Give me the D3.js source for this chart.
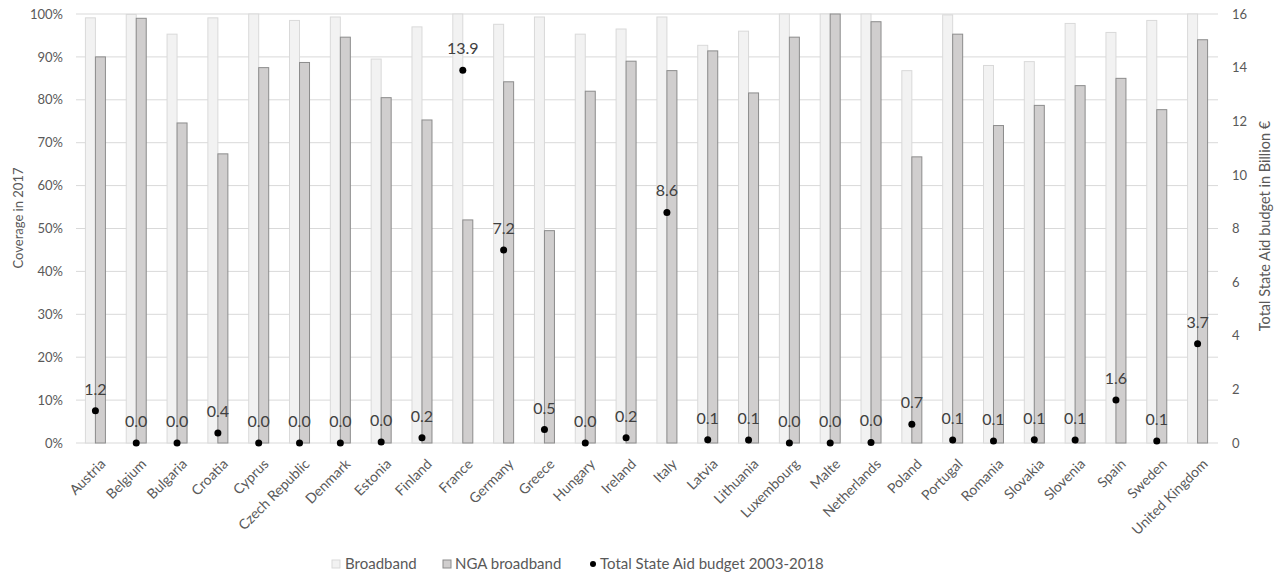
<!DOCTYPE html>
<html><head><meta charset="utf-8">
<script src="https://cdn.jsdelivr.net/npm/d3@7"></script>
<style>
body{margin:0;background:#fff;}
svg{display:block;font-family:Lato, "Open Sans", sans-serif;}
</style></head>
<body><svg id="c" width="1285" height="580"></svg>
<script>
const categories = ["Austria","Belgium","Bulgaria","Croatia","Cyprus","Czech Republic","Denmark","Estonia","Finland","France","Germany","Greece","Hungary","Ireland","Italy","Latvia","Lithuania","Luxembourg","Malte","Netherlands","Poland","Portugal","Romania","Slovakia","Slovenia","Spain","Sweden","United Kingdom"];
const broadband = [99.1,99.9,95.3,99.1,100,98.5,99.3,89.5,97.0,100,97.6,99.3,95.3,96.5,99.3,92.7,96.0,100,100,100,86.8,99.8,88.0,88.9,97.8,95.7,98.5,100];
const nga = [90.0,99.0,74.6,67.4,87.5,88.7,94.6,80.5,75.3,52.0,84.2,49.5,82.0,89.0,86.8,91.4,81.6,94.6,100,98.2,66.7,95.3,74.0,78.7,83.3,85.0,77.7,94.0];
const stateAid = [1.2,0.0,0.0,0.37,0.0,0.0,0.0,0.04,0.2,13.9,7.2,0.5,0.0,0.2,8.6,0.12,0.11,0.0,0.0,0.02,0.7,0.11,0.07,0.12,0.11,1.6,0.07,3.7];
const leftTicks = [0,10,20,30,40,50,60,70,80,90,100];
const rightTicks = [0,2,4,6,8,10,12,14,16];
const legendLabels = ["Broadband","NGA broadband","Total State Aid budget 2003-2018"];

const svg = d3.select("#c");
const L = 75, R = 1218, T = 14, B = 443;
const x = d3.scaleBand().domain(categories).range([L, R]).padding(0);
const yL = d3.scaleLinear().domain([0,100]).range([B, T]);
const yR = d3.scaleLinear().domain([0,16]).range([B, T]);
const cx = c => x(c) + x.bandwidth()/2;
const bw = 10;
const txt = "#595959";

// grid
svg.append("g").selectAll("line").data(leftTicks).join("line")
  .attr("x1", L+1).attr("x2", R).attr("y1", d=>yL(d)).attr("y2", d=>yL(d))
  .attr("stroke", "#d9d9d9").attr("stroke-width", 1);

// left axis
const la = svg.append("g").attr("transform", `translate(${L},0)`)
  .call(d3.axisLeft(yL).tickValues(leftTicks).tickFormat(d=>d+"%").tickSize(0).tickPadding(12));
la.select(".domain").remove();
la.selectAll("text").attr("fill", txt).style("font-size","13px").style("font-family","Lato, sans-serif");

// right axis
const ra = svg.append("g").attr("transform", `translate(${R},0)`)
  .call(d3.axisRight(yR).tickValues(rightTicks).tickSize(0).tickPadding(14));
ra.select(".domain").remove();
ra.selectAll("text").attr("fill", txt).style("font-size","13px").style("font-family","Lato, sans-serif");

// bars
svg.append("g").selectAll("rect").data(categories).join("rect")
  .attr("x", (c)=>cx(c)-bw).attr("width", bw)
  .attr("y", (c,i)=>yL(broadband[i])).attr("height", (c,i)=>B - yL(broadband[i]))
  .attr("fill", "#f2f2f2").attr("stroke", "#d9d9d9").attr("stroke-width", 1);
svg.append("g").selectAll("rect").data(categories).join("rect")
  .attr("x", (c)=>cx(c)).attr("width", bw)
  .attr("y", (c,i)=>yL(nga[i])).attr("height", (c,i)=>B - yL(nga[i]))
  .attr("fill", "#d0cece").attr("stroke", "#8c8c8c").attr("stroke-width", 1);

// dots
svg.append("g").selectAll("circle").data(categories).join("circle")
  .attr("cx", c=>cx(c)).attr("cy", (c,i)=>yR(stateAid[i])).attr("r", 3.5).attr("fill", "#000");
svg.append("g").selectAll("text").data(categories).join("text")
  .attr("x", c=>cx(c)).attr("y", (c,i)=>yR(stateAid[i]) - 16)
  .attr("text-anchor","middle").attr("fill","#404040").style("font-size","16px")
  .text((c,i)=>d3.format(".1f")(stateAid[i]));

// x labels
svg.append("g").selectAll("text").data(categories).join("text")
  .attr("transform", c=>`translate(${cx(c)+4},${B+15}) rotate(-45)`)
  .attr("text-anchor","end").attr("dy","0.7em").attr("fill", txt).style("font-size","14px")
  .text(c=>c);

// axis titles
svg.append("text").attr("transform","translate(18,218) rotate(-90)").attr("text-anchor","middle")
  .attr("dy","0.35em").attr("fill", txt).style("font-size","13px").text("Coverage in 2017");
svg.append("text").attr("transform","translate(1265,226) rotate(-90)").attr("text-anchor","middle")
  .attr("dy","0.35em").attr("fill", txt).style("font-size","14.5px").text("Total State Aid budget in Billion €");

// legend
const lg = svg.append("g");
const ly = 564;
lg.append("rect").attr("x",332).attr("y",ly-4).attr("width",8).attr("height",8).attr("fill","#f2f2f2").attr("stroke","#d9d9d9");
lg.append("text").attr("x",345).attr("y",ly).attr("dy","0.35em").attr("fill",txt).style("font-size","15px").text(legendLabels[0]);
lg.append("rect").attr("x",443).attr("y",ly-4).attr("width",8).attr("height",8).attr("fill","#d0cece").attr("stroke","#8c8c8c");
lg.append("text").attr("x",455).attr("y",ly).attr("dy","0.35em").attr("fill",txt).style("font-size","15px").text(legendLabels[1]);
lg.append("circle").attr("cx",593).attr("cy",ly).attr("r",3).attr("fill","#000");
lg.append("text").attr("x",600).attr("y",ly).attr("dy","0.35em").attr("fill",txt).style("font-size","15px").text(legendLabels[2]);
</script></body></html>
